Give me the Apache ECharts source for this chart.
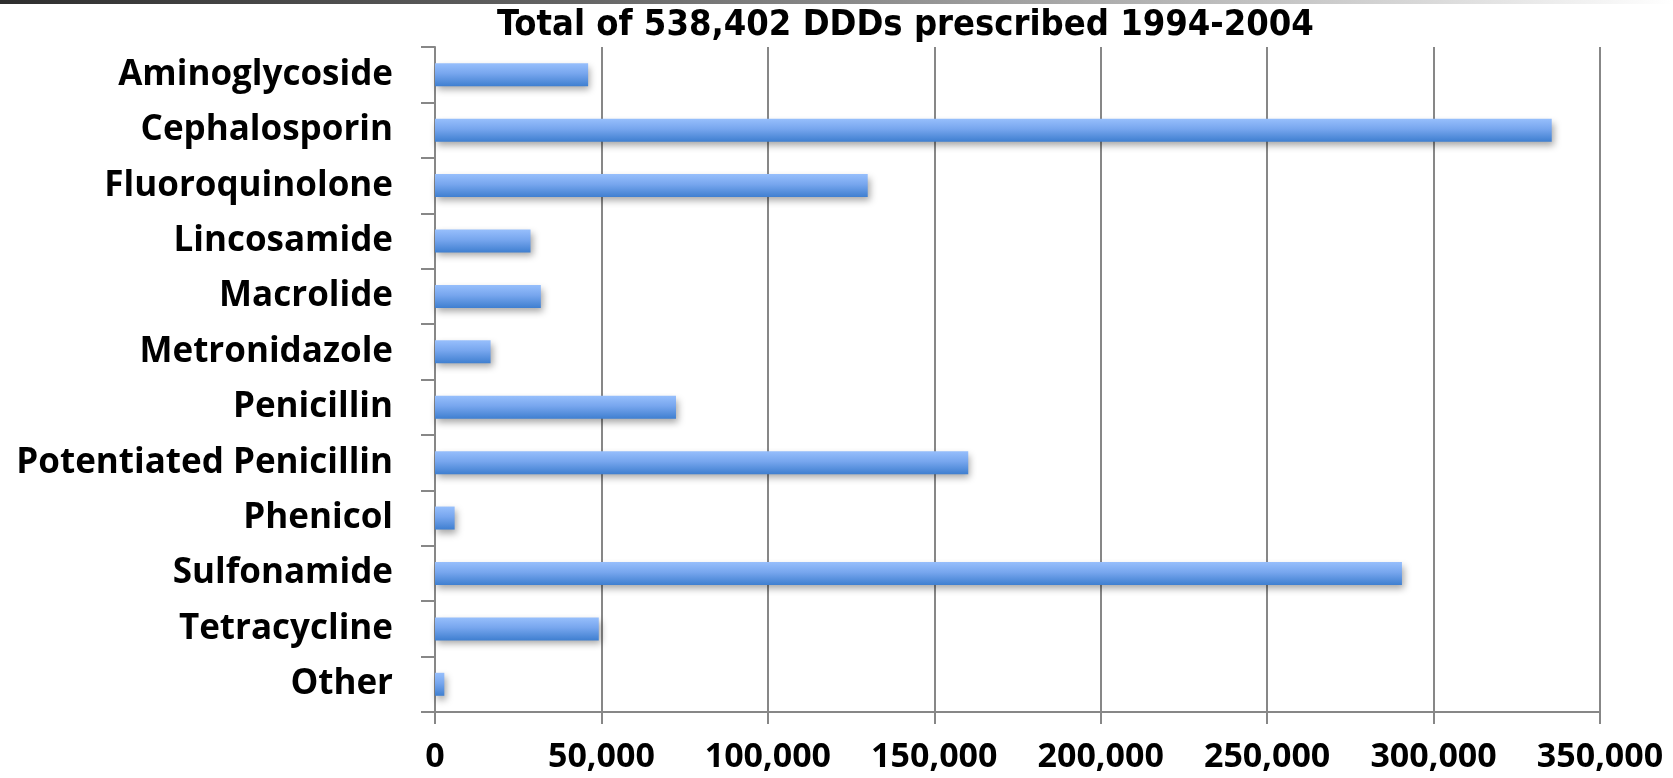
<!DOCTYPE html>
<html>
<head>
<meta charset="utf-8">
<script src="https://cdn.jsdelivr.net/npm/echarts@6/dist/echarts.min.js"></script>
<style>
  html, body { margin: 0; padding: 0; background: #ffffff; }
  #chart { width: 1673px; height: 778px; }
</style>
</head>
<body>
<div id="chart"></div>
<script>
// Antibiotic classes, top to bottom
const categories = [
  'Aminoglycoside', 'Cephalosporin', 'Fluoroquinolone', 'Lincosamide',
  'Macrolide', 'Metronidazole', 'Penicillin', 'Potentiated Penicillin',
  'Phenicol', 'Sulfonamide', 'Tetracycline', 'Other'
];
// Defined daily doses per class
const ddds = [
  46000, 335500, 130000, 28700,
  31800, 16700, 72400, 160200,
  5900, 290500, 49200, 2800
];
const titleText = 'Total of 538,402 DDDs prescribed 1994-2004';
const axisMin = 0;
const axisMax = 350000;
const axisStep = 50000;

const grey = '#878787';
const chart = echarts.init(document.getElementById('chart'), null, { renderer: 'canvas' });

chart.setOption({
  backgroundColor: '#ffffff',
  animation: false,
  title: {
    text: titleText,
    left: 492,
    top: 3,
    textStyle: {
      fontFamily: 'DejaVu Sans Condensed',
      fontWeight: 'bold',
      fontSize: 36,
      color: '#000000'
    }
  },
  graphic: [
    {
      type: 'rect',
      left: 0,
      top: 0,
      shape: { width: 1673, height: 4 },
      style: {
        fill: new echarts.graphic.LinearGradient(0, 0, 1, 0, [
          { offset: 0, color: '#2e2e2e' },
          { offset: 0.35, color: '#666666' },
          { offset: 0.85, color: '#d8d8d8' },
          { offset: 1, color: '#ffffff' }
        ])
      },
      z: 10
    }
  ],
  grid: {
    left: 435,
    right: 73,
    top: 47,
    bottom: 66,
    containLabel: false
  },
  xAxis: {
    type: 'value',
    min: axisMin,
    max: axisMax,
    interval: axisStep,
    axisLine: { show: true, lineStyle: { color: grey, width: 2 } },
    axisTick: { show: true, length: 12, lineStyle: { color: grey, width: 2 } },
    splitLine: { show: true, lineStyle: { color: grey, width: 2 } },
    axisLabel: {
      margin: 28,
      fontFamily: 'Open Sans',
      fontWeight: 'bold',
      fontSize: 34,
      color: '#000000',
      formatter: v => v.toLocaleString('en-US')
    }
  },
  yAxis: {
    type: 'category',
    data: categories,
    inverse: true,
    axisLine: { show: true, lineStyle: { color: grey, width: 2 } },
    axisTick: { show: true, length: 14, lineStyle: { color: grey, width: 2 } },
    splitLine: { show: false },
    axisLabel: {
      margin: 42,
      fontFamily: 'Open Sans',
      fontWeight: 'bold',
      fontSize: 35,
      color: '#000000'
    }
  },
  series: [
    {
      type: 'bar',
      data: ddds,
      barWidth: 23,
      itemStyle: {
        color: new echarts.graphic.LinearGradient(0, 0, 0, 1, [
          { offset: 0, color: '#97bffc' },
          { offset: 0.45, color: '#77a6ee' },
          { offset: 1, color: '#3f7fd0' }
        ]),
        shadowColor: 'rgba(0,0,0,0.35)',
        shadowBlur: 7,
        shadowOffsetX: 2,
        shadowOffsetY: 4
      }
    }
  ]
});
</script>
</body>
</html>
